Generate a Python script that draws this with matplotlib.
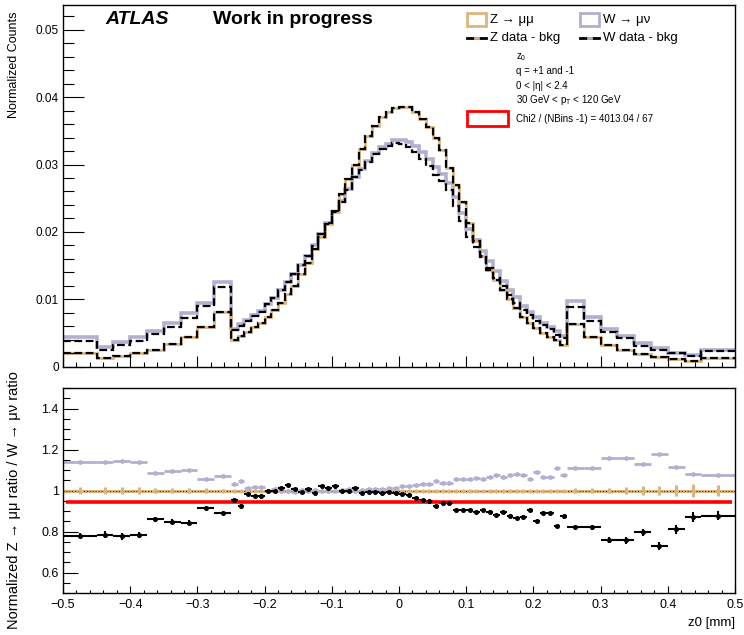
import numpy as np
import matplotlib
matplotlib.use('Agg')
import matplotlib.pyplot as plt
from matplotlib.patches import Rectangle
from matplotlib.lines import Line2D
from matplotlib.ticker import MultipleLocator, FuncFormatter

plt.rcParams['font.family'] = ['Liberation Sans', 'DejaVu Sans']
plt.rcParams['mathtext.fontset'] = 'custom'
plt.rcParams['mathtext.rm'] = 'Liberation Sans'
plt.rcParams['mathtext.it'] = 'Liberation Sans:italic'

### variable binning: wide bins in the tails, 0.01 mm in the core
edges_left = [-0.5, -0.45, -0.425, -0.4, -0.375, -0.35, -0.325, -0.3, -0.275]
edges_core = np.round(np.linspace(-0.25, 0.25, 51), 3)
edges_right = [0.275, 0.3, 0.325, 0.35, 0.375, 0.4, 0.425, 0.45, 0.5]
edges = np.concatenate([edges_left, edges_core, edges_right])

# normalized z0 distributions (68 bins)
z_mc = [0.00197, 0.00122, 0.00161, 0.00197, 0.00246, 0.00336, 0.00445, 0.00585, 0.00803,
        0.0039, 0.0045, 0.0051, 0.0058, 0.0065, 0.0073, 0.0084, 0.0094, 0.0107, 0.0119,
        0.0137, 0.0154, 0.0174, 0.0192, 0.0211, 0.0231, 0.0256, 0.0278, 0.0300, 0.0323,
        0.0342, 0.0358, 0.0371, 0.0378, 0.0384, 0.0386, 0.0385, 0.0378, 0.0368, 0.0356,
        0.0340, 0.0321, 0.0295, 0.0270, 0.0244, 0.0213, 0.0186, 0.0164, 0.0144, 0.0129,
        0.0114, 0.0100, 0.0087, 0.0074, 0.0064, 0.0057, 0.0050, 0.0044, 0.0040, 0.0032,
        0.00634, 0.00445, 0.00321, 0.00246, 0.00182, 0.00137, 0.00107, 0.00087, 0.00122]
# Z data - bkg lies right on top of the Z MC
z_data = list(z_mc)

w_mc = [0.00436, 0.00287, 0.0037, 0.00436, 0.0052, 0.00646, 0.0080, 0.00945, 0.01258,
        0.0056, 0.0063, 0.0069, 0.0076, 0.0083, 0.0093, 0.0102, 0.0113, 0.0126, 0.0137,
        0.0151, 0.0164, 0.0180, 0.0197, 0.0213, 0.0229, 0.0246, 0.0263, 0.0281, 0.0293,
        0.0306, 0.0317, 0.0326, 0.0331, 0.0336, 0.0337, 0.0333, 0.0327, 0.0318, 0.0308,
        0.0297, 0.0286, 0.0272, 0.0252, 0.0228, 0.0204, 0.0188, 0.0171, 0.0156, 0.0142,
        0.0127, 0.0114, 0.0103, 0.0090, 0.0081, 0.0073, 0.0065, 0.0059, 0.0052, 0.0045,
        0.00967, 0.00734, 0.00555, 0.00455, 0.00355, 0.00271, 0.00206, 0.00172, 0.00246]

w_data = [0.00382, 0.00252, 0.00323, 0.00382, 0.00478, 0.0059, 0.00727, 0.00893, 0.01177,
          0.00542, 0.00603, 0.00681, 0.00747, 0.00815, 0.0093, 0.0102, 0.0113, 0.0126, 0.0138,
          0.0151, 0.0164, 0.0179, 0.0197, 0.0213, 0.0230, 0.0245, 0.0262, 0.0282, 0.0292,
          0.0304, 0.0315, 0.0323, 0.0328, 0.0332, 0.0330, 0.0326, 0.0319, 0.0308, 0.0298,
          0.0284, 0.0275, 0.0262, 0.0238, 0.0216, 0.0193, 0.0177, 0.0162, 0.0146, 0.0132,
          0.0119, 0.0106, 0.0095, 0.0084, 0.0077, 0.0067, 0.0061, 0.0055, 0.0047, 0.0042,
          0.00878, 0.00669, 0.0051, 0.00421, 0.0031, 0.00246, 0.00197, 0.00157, 0.00236]

# ratio panel
ratio_z = [1.0] * 68
err_z = ([0.016, 0.018, 0.018, 0.016, 0.014, 0.012, 0.011, 0.010, 0.008] + [0.004] * 50 +
         [0.010, 0.012, 0.014, 0.016, 0.020, 0.022, 0.026, 0.030, 0.026])

ratio_w = [1.141, 1.138, 1.146, 1.14, 1.087, 1.095, 1.1, 1.058, 1.069,
           1.034, 1.045, 1.013, 1.018, 1.018, 1.0, 1.005, 0.998, 1.0, 0.995,
           1.002, 1.0, 1.004, 0.997, 1.0, 0.996, 1.003, 1.005, 0.998, 1.002,
           1.006, 1.005, 1.008, 1.01, 1.013, 1.021, 1.021, 1.026, 1.034, 1.034,
           1.047, 1.039, 1.039, 1.058, 1.058, 1.058, 1.061, 1.054, 1.065, 1.074,
           1.065, 1.074, 1.082, 1.077, 1.058, 1.09, 1.066, 1.066, 1.109, 1.074,
           1.109, 1.111, 1.157, 1.157, 1.13, 1.178, 1.117, 1.079, 1.074]

ratio_zw = [0.78, 0.785, 0.776, 0.784, 0.859, 0.848, 0.843, 0.913, 0.889,
            0.953, 0.926, 0.981, 0.974, 0.974, 0.998, 0.998, 1.01, 1.026, 1.005,
            0.994, 1.005, 0.989, 1.021, 1.014, 1.021, 0.998, 0.998, 1.01, 0.99,
            0.994, 0.994, 0.989, 0.994, 0.989, 0.981, 0.978, 0.961, 0.953, 0.95,
            0.925, 0.941, 0.937, 0.905, 0.905, 0.905, 0.894, 0.905, 0.897, 0.881,
            0.897, 0.878, 0.865, 0.873, 0.905, 0.849, 0.892, 0.889, 0.825, 0.876,
            0.822, 0.82, 0.757, 0.757, 0.796, 0.729, 0.81, 0.87, 0.878]
err_zw = ([0.014, 0.016, 0.016, 0.014, 0.012, 0.012, 0.011, 0.010, 0.010] + [0.006] * 50 +
          [0.010, 0.012, 0.014, 0.016, 0.018, 0.020, 0.022, 0.026, 0.020])

fit_const = 0.943

TAN = '#dcb47e'
LAV = '#b3afcf'
W, H = 744, 635


def fx(x):
    return x / W


def fy(y):
    return 1 - y / H


fig = plt.figure(figsize=(7.44, 6.35), dpi=100)
ax = fig.add_axes([fx(63), fy(366.5), fx(735) - fx(63), fy(5) - fy(366.5)])
ax2 = fig.add_axes([fx(63), fy(593), fx(735) - fx(63), fy(388) - fy(593)])

# top pad
ax.stairs(w_mc, edges, baseline=None, color=LAV, lw=2.6)
ax.stairs(z_mc, edges, baseline=None, color=TAN, lw=2.0)
ax.stairs(w_data, edges, baseline=None, color='black', lw=1.6, ls=(0, (3.5, 1.6)))
ax.stairs(z_data, edges, baseline=None, color='black', lw=1.6, ls=(0, (3.5, 1.6)))
ax.set_xlim(-0.5, 0.5)
ax.set_ylim(0, 0.0537)

ax.xaxis.set_major_locator(MultipleLocator(0.1))
ax.xaxis.set_minor_locator(MultipleLocator(0.02))
ax.yaxis.set_major_locator(MultipleLocator(0.01))
ax.yaxis.set_minor_locator(MultipleLocator(0.002))
ax.tick_params(axis='x', which='major', direction='in', length=7.8, width=0.8, labelbottom=False)
ax.tick_params(axis='x', which='minor', direction='in', length=3.9, width=0.8)
ax.tick_params(axis='y', which='major', direction='in', length=15, width=0.8, labelsize=8.5, pad=3)
ax.tick_params(axis='y', which='minor', direction='in', length=7.9, width=0.8)
ax.yaxis.set_major_formatter(FuncFormatter(lambda v, p: '0' if abs(v) < 1e-9 else '%g' % v))

# ratio pad
xc = (edges[:-1] + edges[1:]) / 2
xw = (edges[1:] - edges[:-1]) / 2
ax2.errorbar(xc, ratio_z, xerr=xw, yerr=err_z, fmt='o', ms=2, color=TAN, lw=2.2, capsize=0)
ax2.axhline(1.0, color='black', lw=0.7, ls=(0, (1, 2)))
ax2.errorbar(xc, ratio_w, xerr=xw, yerr=0.004, fmt='o', ms=2.4, color=LAV, lw=2.0, capsize=0)
ax2.errorbar(xc, ratio_zw, xerr=xw, yerr=err_zw, fmt='o', ms=2.6, color='black', lw=1.5, capsize=0)
ax2.hlines(fit_const, -0.495, 0.495, color='red', lw=2.6)
ax2.set_xlim(-0.5, 0.5)
ax2.set_ylim(0.5, 1.5)

ax2.xaxis.set_major_locator(MultipleLocator(0.1))
ax2.xaxis.set_minor_locator(MultipleLocator(0.02))
ax2.yaxis.set_major_locator(MultipleLocator(0.2))
ax2.yaxis.set_minor_locator(MultipleLocator(0.05))
ax2.tick_params(axis='x', which='major', direction='in', length=5, width=0.8, labelsize=9, pad=4)
ax2.tick_params(axis='x', which='minor', direction='in', length=2.5, width=0.8)
ax2.tick_params(axis='y', which='major', direction='in', length=10.8, width=0.8, labelsize=9, pad=3)
ax2.tick_params(axis='y', which='minor', direction='in', length=5, width=0.8)


def fmt(v, p):
    if abs(v) < 1e-9:
        return '0'
    return ('%g' % round(v, 3)).replace('-', '\u2212')


ax2.xaxis.set_major_formatter(FuncFormatter(fmt))
ax2.yaxis.set_major_formatter(FuncFormatter(fmt))

for a in (ax, ax2):
    for s in a.spines.values():
        s.set_linewidth(1.0)

# axis titles, ROOT style (aligned to the axis end)
fig.text(fx(14), fy(12), 'Normalized Counts', rotation=90, ha='center', va='top', fontsize=9)
fig.text(fx(14), fy(371), 'Normalized Z \u2192 \u03bc\u03bc ratio / W \u2192 \u03bc\u03bd ratio',
         rotation=90, ha='center', va='top', fontsize=10.5)
fig.text(fx(735), fy(623), 'z0 [mm]', ha='right', va='center', fontsize=9.5)

fig.text(fx(105), fy(20), 'ATLAS', fontsize=14, fontweight='bold', fontstyle='italic', va='center')
fig.text(fx(213), fy(20), 'Work in progress', fontsize=14, fontweight='bold', va='center')

# legend
for x0, col, lab in [(466.7, TAN, 'Z \u2192 \u03bc\u03bc'), (579.7, LAV, 'W \u2192 \u03bc\u03bd')]:
    fig.add_artist(Rectangle((fx(x0), fy(26)), fx(19.5), fy(12.7) - fy(26), fill=False,
                             edgecolor=col, lw=2, transform=fig.transFigure))
    fig.text(fx(x0 + 23), fy(19.5), lab, fontsize=9.5, va='center')
for x0, col, lab in [(466.7, TAN, 'Z data - bkg'), (579.7, LAV, 'W data - bkg')]:
    fig.add_artist(Line2D([fx(x0), fx(x0 + 19.5)], [fy(38), fy(38)], color='black', lw=2,
                          transform=fig.transFigure))
    fig.add_artist(Line2D([fx(x0 + 8.5), fx(x0 + 11)], [fy(38), fy(38)], color=col, lw=2,
                          transform=fig.transFigure))
    fig.text(fx(x0 + 23), fy(38.5), lab, fontsize=9.5, va='center')

info = ['z$_\\mathregular{0}$', 'q = +1 and -1', '0 < |\u03b7| < 2.4',
        '30 GeV < p$_\\mathregular{T}$ < 120 GeV']
for txt, yy in zip(info, [57, 70.5, 86, 100]):
    fig.text(fx(516), fy(yy), txt, fontsize=7, va='center')
fig.add_artist(Rectangle((fx(467), fy(126)), fx(41), fy(111.5) - fy(126), fill=False,
                         edgecolor='red', lw=2, transform=fig.transFigure))
fig.text(fx(516), fy(118.5), 'Chi2 / (NBins -1) = 4013.04 / 67', fontsize=7, va='center')

fig.savefig('out.png', dpi=100)
